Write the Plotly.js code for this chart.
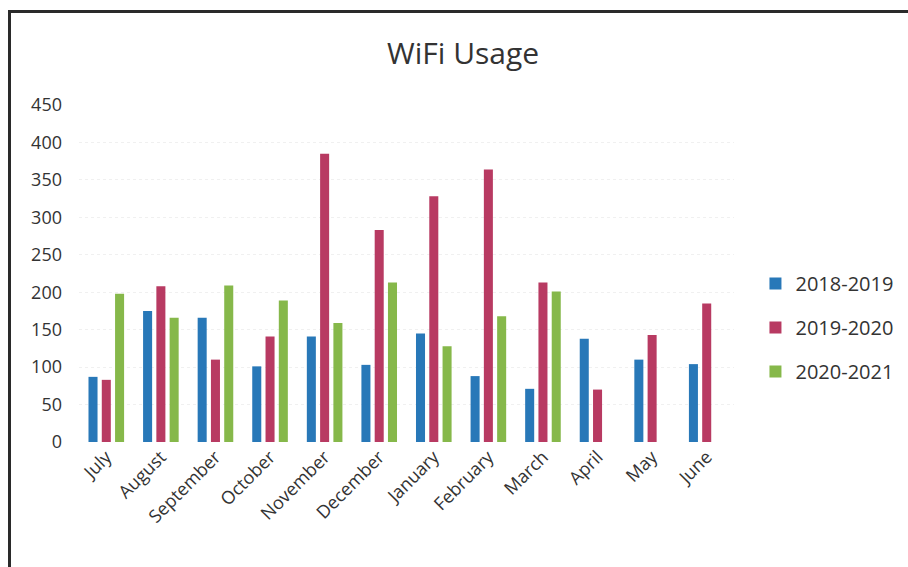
<!DOCTYPE html>
<html>
<head>
<meta charset="utf-8">
<script src="https://cdn.plot.ly/plotly-3.0.1.min.js"></script>
<style>
html,body{margin:0;padding:0;background:#fff;}
#wrap{position:relative;width:908px;height:567px;overflow:hidden;}
#frame{position:absolute;left:8px;top:10px;width:960px;height:600px;border-left:3px solid #2a2a2a;border-top:3px solid #2a2a2a;box-sizing:border-box;}
#chart{position:absolute;left:0;top:0;width:908px;height:567px;}
</style>
</head>
<body>
<div id="wrap"><div id="frame"></div><div id="chart"></div></div>
<script>
const months = ["July","August","September","October","November","December","January","February","March","April","May","June"];
const s2018 = [87,175,166,101,141,103,145,88,71,138,110,104];
const s2019 = [83,208,110,141,385,283,328,364,213,70,143,185];
const s2020 = [198,166,209,189,159,213,128,168,201,null,null,null];
const seriesNames = ["2018-2019","2019-2020","2020-2021"];
const colors = ["#2878b8","#b83a62","#86b84a"];
const yTicks = [0,50,100,150,200,250,300,350,400,450];

const traces = [s2018,s2019,s2020].map((vals,i)=>({
  type:'bar', x:months, y:vals, name:seriesNames[i],
  marker:{color:colors[i]}, legendgroup:'g'+i
}));

const layout = {
  width:908, height:567,
  paper_bgcolor:'rgba(0,0,0,0)', plot_bgcolor:'rgba(0,0,0,0)',
  margin:{l:79, r:174, t:105, b:125},
  font:{family:'"Open Sans", "Liberation Sans", sans-serif', color:'#404040'},
  title:{text:'WiFi Usage', font:{size:30, color:'#333'}, xref:'container', x:0.51, xanchor:'center', yref:'container', y:0.905, yanchor:'middle'},
  barmode:'group', bargap:0.27, bargroupgap:0.32,
  xaxis:{tickangle:-45, tickfont:{size:18, color:'#333'}, showline:false, ticks:'', showgrid:false, automargin:false},
  yaxis:{range:[0,450], tickvals:yTicks, tickfont:{size:18, color:'#333'}, showgrid:true, gridcolor:'#f0f0f0', gridwidth:1, griddash:'dot', zeroline:false, showline:false, ticklabelstandoff:16, automargin:false},
  legend:{xref:'container', x:0.832, xanchor:'left', y:0.34, yanchor:'middle', font:{size:20, color:'#333'}, tracegroupgap:15, itemwidth:30, traceorder:'grouped'},
  showlegend:true
};
Plotly.newPlot('chart', traces, layout, {staticPlot:true, displayModeBar:false});
</script>
</body>
</html>
